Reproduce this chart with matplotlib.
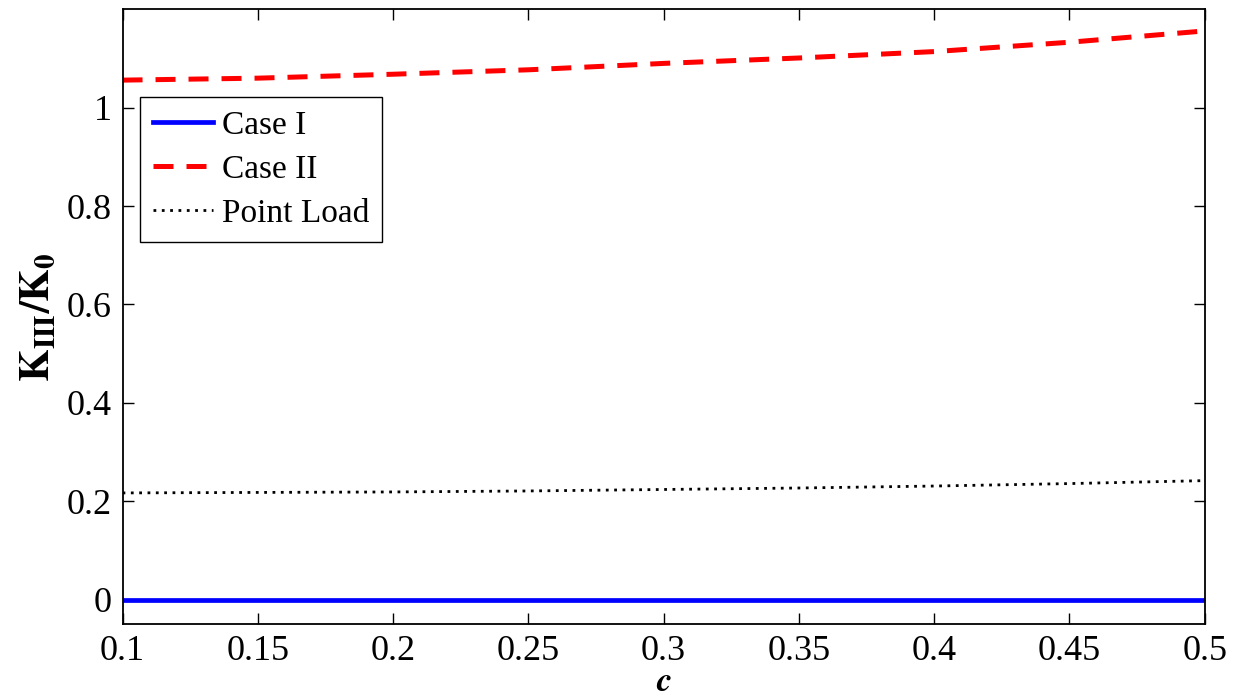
import matplotlib
matplotlib.use("Agg")
from matplotlib import pyplot as plt
import numpy as np

plt.rcParams['font.family'] = ['Liberation Serif', 'DejaVu Serif']
plt.rcParams['mathtext.fontset'] = 'stix'

# data
c = [0.1, 0.15, 0.2, 0.25, 0.3, 0.35, 0.4, 0.45, 0.5]
case1 = [0, 0, 0, 0, 0, 0, 0, 0, 0]
case2 = [1.056, 1.060, 1.068, 1.077, 1.090, 1.101, 1.114, 1.133, 1.156]
point_load = [0.217, 0.218, 0.219, 0.221, 0.224, 0.227, 0.231, 0.236, 0.242]

xticks = [0.1, 0.15, 0.2, 0.25, 0.3, 0.35, 0.4, 0.45, 0.5]
xticklabels = ['0.1', '0.15', '0.2', '0.25', '0.3', '0.35', '0.4', '0.45', '0.5']
yticks = [0, 0.2, 0.4, 0.6, 0.8, 1]
yticklabels = ['0', '0.2', '0.4', '0.6', '0.8', '1']

fig = plt.figure(figsize=(12.39, 6.98), dpi=100)
ax = fig.add_axes([0.0989, 0.1056, 0.8734, 0.8811])

ax.plot(c, case1, color='#0000ff', lw=3.4, label='Case I')
ax.plot(c, case2, color='#ff0000', lw=3.6, ls=(0, (4, 2.6)), label='Case II')
ax.plot(c, point_load, color='black', lw=2.0, ls=(0, (1, 2)), label='Point Load')

ax.set_xlim(0.1, 0.5)
ax.set_ylim(-0.05, 1.2)
ax.set_xticks(xticks)
ax.set_xticklabels(xticklabels)
ax.set_yticks(yticks)
ax.set_yticklabels(yticklabels)
ax.tick_params(direction='in', length=8, width=1, labelsize=26, top=True, right=True, pad=8)
for s in ax.spines.values():
    s.set_linewidth(1.3)

ax.set_xlabel(r'$\mathbfit{c}$', fontsize=25, labelpad=-2)
ax.set_ylabel(r'$\mathbf{K_{III}/K_0}$', fontsize=30, labelpad=6)

leg = ax.legend(loc='upper left', bbox_to_anchor=(0.016, 0.857), borderaxespad=0,
                fontsize=24, fancybox=False, edgecolor='black', framealpha=1,
                handlelength=1.8, handletextpad=0.25, labelspacing=0.4, borderpad=0.4)
leg.get_frame().set_linewidth(1.0)

plt.savefig('out.png', dpi=100)
